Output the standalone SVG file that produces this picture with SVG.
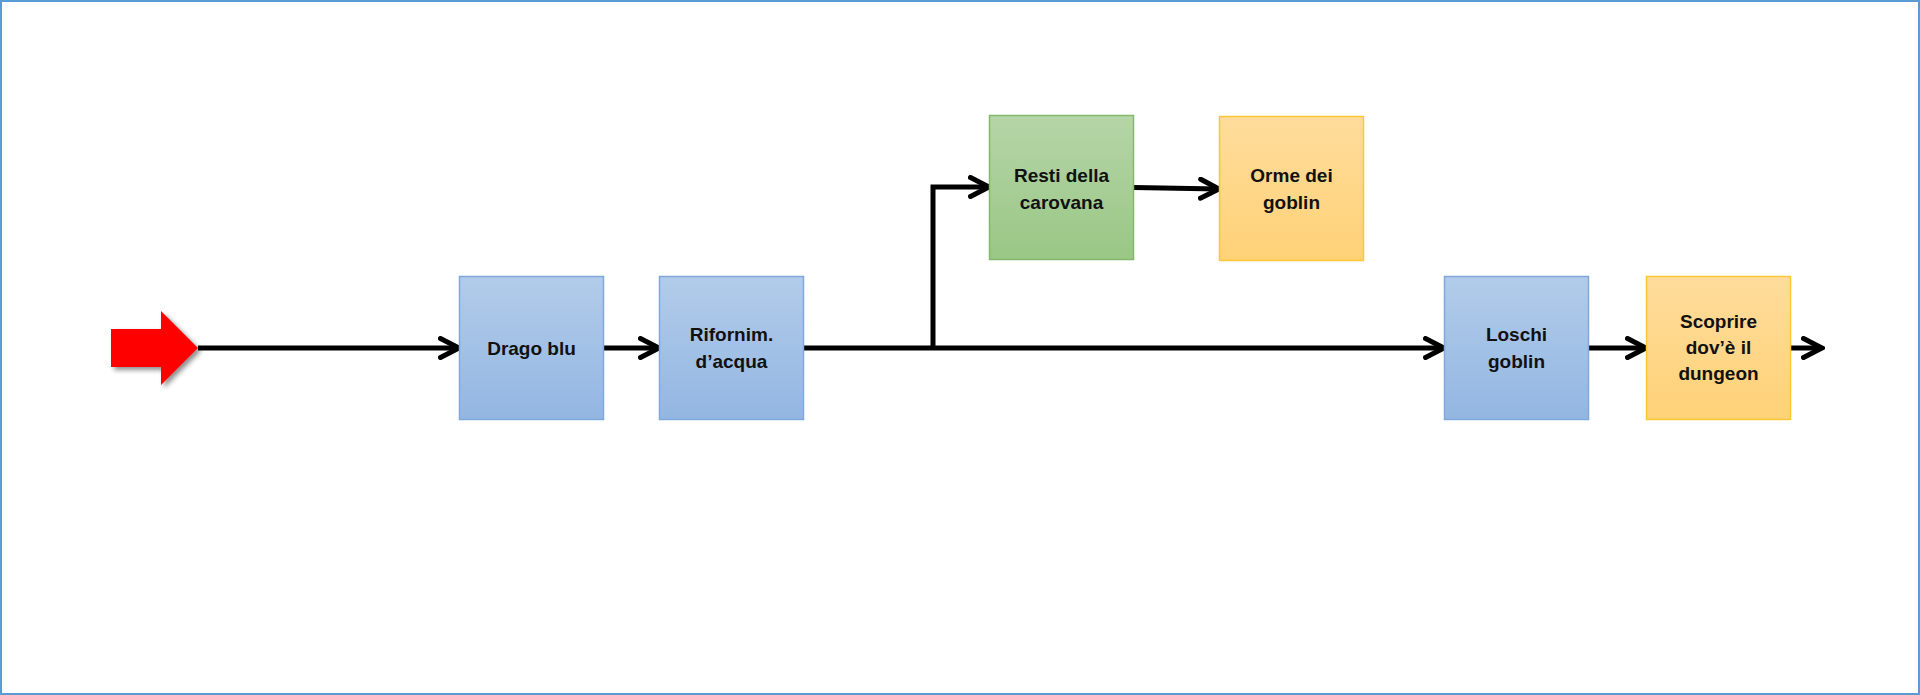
<svg xmlns="http://www.w3.org/2000/svg" width="1920" height="695" viewBox="0 0 1920 695">
<defs>
<linearGradient id="gBlue" x1="0" y1="0" x2="0" y2="1"><stop offset="0" stop-color="#B2CCEA"/><stop offset="1" stop-color="#93B6E2"/></linearGradient>
<linearGradient id="gGreen" x1="0" y1="0" x2="0" y2="1"><stop offset="0" stop-color="#B6D5A8"/><stop offset="1" stop-color="#99C785"/></linearGradient>
<linearGradient id="gOrange" x1="0" y1="0" x2="0" y2="1"><stop offset="0" stop-color="#FFDC9C"/><stop offset="1" stop-color="#FFD277"/></linearGradient>
<filter id="shadow" x="-30%" y="-30%" width="160%" height="160%"><feGaussianBlur in="SourceAlpha" stdDeviation="2.5"/><feOffset dx="3" dy="3" result="b"/><feComponentTransfer><feFuncA type="linear" slope="0.45"/></feComponentTransfer><feMerge><feMergeNode/><feMergeNode in="SourceGraphic"/></feMerge></filter>
<marker id="arr" viewBox="0 0 24 24" markerWidth="24" markerHeight="24" refX="21" refY="12" markerUnits="userSpaceOnUse" orient="auto"><path d="M2.5,2.5 L21,12 L2.5,21.5" fill="none" stroke="#000" stroke-width="5" stroke-linecap="round" stroke-linejoin="miter"/></marker>
<style>
.blue{fill:url(#gBlue);stroke:#7FA8DD;stroke-width:1.5}
.green{fill:url(#gGreen);stroke:#84B96C;stroke-width:1.5}
.orange{fill:url(#gOrange);stroke:#FFC734;stroke-width:1.5}
.t{font-family:"Liberation Sans",Arial,sans-serif;font-weight:bold;font-size:19px;fill:#111;text-anchor:middle;dominant-baseline:central}
.c{fill:none;stroke:#000;stroke-width:5;marker-end:url(#arr)}
</style>
</defs>
<rect x="1" y="1" width="1918" height="693" fill="#fff" stroke="#5B9BD5" stroke-width="2"/>
<g id="start">
<path d="M111,329 L161,329 L161,311 L198,348 L161,385 L161,367 L111,367 Z" fill="#FF0000" filter="url(#shadow)"/>
</g>
<g id="connectors">
<path class="c" d="M198,348 L459,348"/>
<path class="c" d="M604,348 L659,348"/>
<path class="c" d="M804,348 L1444,348"/>
<path class="c" d="M933,348 L933,187 L989,187"/>
<path class="c" d="M1134,187.5 L1219,189"/>
<path class="c" d="M1589,348 L1646,348"/>
<path class="c" d="M1790,348 L1822,348"/>
</g>
<g id="drago">
<rect class="blue" x="459.5" y="276.5" width="144" height="143"/>
<text class="t" x="531.5" y="348">Drago blu</text>
</g>
<g id="rifornim">
<rect class="blue" x="659.5" y="276.5" width="144" height="143"/>
<text class="t" x="731.5" y="334">Rifornim.</text>
<text class="t" x="731.5" y="361">d’acqua</text>
</g>
<g id="resti">
<rect class="green" x="989.5" y="115.5" width="144" height="144"/>
<text class="t" x="1061.5" y="175">Resti della</text>
<text class="t" x="1061.5" y="202">carovana</text>
</g>
<g id="orme">
<rect class="orange" x="1219.5" y="116.5" width="144" height="144"/>
<text class="t" x="1291.5" y="175">Orme dei</text>
<text class="t" x="1291.5" y="202">goblin</text>
</g>
<g id="loschi">
<rect class="blue" x="1444.5" y="276.5" width="144" height="143"/>
<text class="t" x="1516.5" y="334">Loschi</text>
<text class="t" x="1516.5" y="361">goblin</text>
</g>
<g id="scoprire">
<rect class="orange" x="1646.5" y="276.5" width="144" height="143"/>
<text class="t" x="1718.5" y="321">Scoprire</text>
<text class="t" x="1718.5" y="347">dov’è il</text>
<text class="t" x="1718.5" y="373">dungeon</text>
</g>
</svg>
